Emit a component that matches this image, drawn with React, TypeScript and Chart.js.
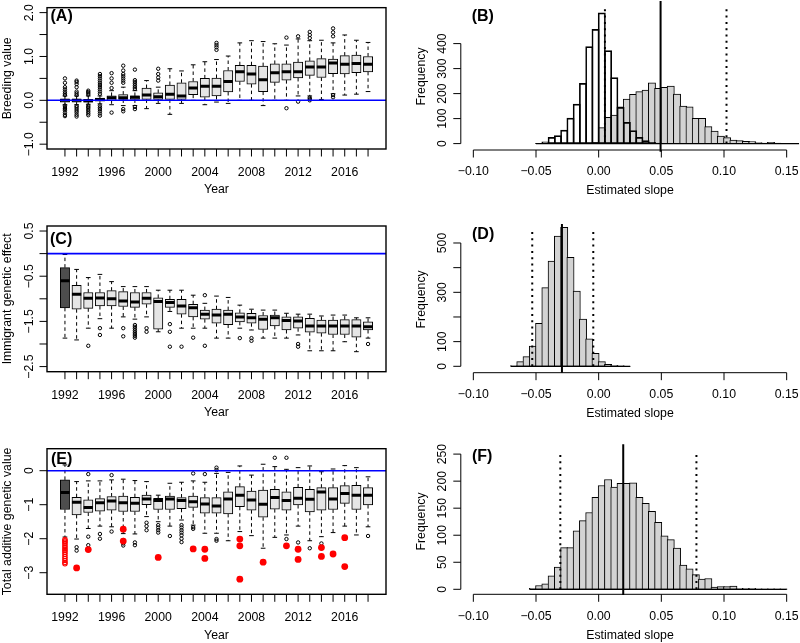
import React, { useEffect, useRef } from 'react';
import { Chart, registerables } from 'chart.js';

Chart.register(...registerables);

const FONT = "'Liberation Sans', Arial, Helvetica, sans-serif";

// ---------------- shared categories / ticks ----------------
const years = [1992, 1993, 1994, 1995, 1996, 1997, 1998, 1999, 2000, 2001, 2002, 2003, 2004, 2005, 2006, 2007, 2008, 2009, 2010, 2011, 2012, 2013, 2014, 2015, 2016, 2017, 2018];
const yearTickLabels = ['1992', '1996', '2000', '2004', '2008', '2012', '2016'];
const highlightYear = 1992;

const slopeTicks = [-0.1, -0.05, 0, 0.05, 0.1, 0.15];
const slopeLabels = ['\u22120.10', '\u22120.05', '0.00', '0.05', '0.10', '0.15'];

// ---------------- Panel A: breeding value ----------------
const aLow = [-0.1, -0.1, -0.09, -0.08, -0.1, -0.12, -0.12, -0.19, -0.07, -0.32, -0.07, 0.0, -0.1, -0.04, -0.07, 0.0, 0.0, -0.12, 0.0, 0.0, 0.1, 0.1, 0.02, 0.15, 0.12, 0.14, 0.2];
const aQ1 = [-0.04, -0.04, -0.04, -0.02, 0.0, 0.02, 0.02, 0.02, 0.02, 0.02, 0.02, 0.13, 0.07, 0.1, 0.19, 0.43, 0.37, 0.2, 0.41, 0.46, 0.51, 0.57, 0.52, 0.61, 0.6, 0.63, 0.65];
const aMed = [0.0, 0.0, -0.01, 0.02, 0.06, 0.06, 0.07, 0.12, 0.08, 0.14, 0.1, 0.28, 0.32, 0.32, 0.43, 0.65, 0.6, 0.47, 0.63, 0.65, 0.65, 0.76, 0.76, 0.85, 0.82, 0.84, 0.82];
const aQ3 = [0.03, 0.03, 0.02, 0.05, 0.1, 0.13, 0.1, 0.28, 0.17, 0.35, 0.4, 0.43, 0.5, 0.51, 0.68, 0.8, 0.8, 0.78, 0.83, 0.83, 0.87, 0.9, 0.95, 0.94, 1.02, 1.03, 1.0];
const aHigh = [0.1, 0.1, 0.1, 0.1, 0.22, 0.3, 0.22, 0.45, 0.3, 0.72, 0.67, 0.81, 0.88, 0.93, 1.01, 1.31, 1.36, 1.34, 1.29, 1.26, 1.4, 1.36, 1.37, 1.31, 1.49, 1.37, 1.32];
const aOutliers = [
  [1992, 0.5], [1992, 0.4], [1992, 0.3], [1992, 0.25], [1992, 0.2], [1992, 0.16], [1992, 0.12], [1992, -0.12], [1992, -0.15], [1992, -0.18], [1992, -0.2], [1992, -0.23], [1992, -0.28], [1992, -0.33], [1992, -0.36],
  [1993, 0.45], [1993, 0.42], [1993, 0.37], [1993, 0.3], [1993, 0.2], [1993, 0.16], [1993, 0.12], [1993, -0.13], [1993, -0.16], [1993, -0.2], [1993, -0.24], [1993, -0.28], [1993, -0.33], [1993, -0.37],
  [1994, 0.22], [1994, 0.19], [1994, 0.16], [1994, 0.13], [1994, -0.12], [1994, -0.15], [1994, -0.18], [1994, -0.22], [1994, -0.26], [1994, -0.3], [1994, -0.34],
  [1995, 0.6], [1995, 0.55], [1995, 0.5], [1995, 0.45], [1995, 0.4], [1995, 0.35], [1995, 0.3], [1995, 0.25], [1995, 0.2], [1995, 0.15], [1995, -0.12], [1995, -0.16], [1995, -0.2], [1995, -0.25], [1995, -0.3], [1995, -0.35],
  [1996, 0.62], [1996, 0.5], [1996, 0.4], [1996, 0.28], [1996, -0.28],
  [1997, 0.79], [1997, 0.68], [1997, 0.6], [1997, 0.55], [1997, 0.5], [1997, 0.45], [1997, 0.4], [1997, -0.2], [1997, -0.25],
  [1998, 0.7], [1998, 0.46], [1998, 0.42], [1998, 0.38], [1998, 0.34], [1998, 0.3], [1998, 0.26], [1998, -0.15], [1998, -0.2],
  [2000, 0.72], [2000, 0.6], [2000, 0.52], [2000, 0.45],
  [2005, 1.31], [2005, 1.26], [2005, 1.21], [2005, 1.15],
  [2011, 1.43], [2011, -0.18],
  [2012, 1.46], [2012, -0.03],
  [2013, 1.56], [2013, 1.49], [2013, 1.42], [2013, 0.06], [2013, 0.03], [2013, 0.0],
  [2015, 1.64], [2015, 1.55], [2015, 1.46], [2015, 0.12], [2015, 0.07],
];
const aYTicks = [-1, -0.5, 0, 0.5, 1, 1.5, 2];
const aYLabels = ['\u22121.0', '', '0.0', '', '1.0', '', '2.0'];

// ---------------- Panel C: immigrant genetic effect ----------------
const cLow = [-1.87, -1.91, -1.65, -1.44, -1.65, -1.4, -1.45, -1.4, -1.73, -1.28, -1.65, -1.65, -1.65, -1.87, -1.87, -1.65, -1.69, -1.87, -1.87, -1.87, -1.8, -2.15, -2.15, -2.15, -1.95, -2.17, -1.87];
const cQ1 = [-1.2, -1.23, -1.21, -1.16, -1.16, -1.17, -1.19, -1.12, -1.67, -1.19, -1.34, -1.4, -1.45, -1.54, -1.57, -1.51, -1.54, -1.68, -1.6, -1.69, -1.65, -1.74, -1.76, -1.79, -1.79, -1.85, -1.69];
const cMed = [-0.6, -0.9, -0.99, -0.98, -1.0, -1.05, -1.07, -0.99, -1.06, -1.08, -1.16, -1.2, -1.34, -1.36, -1.34, -1.4, -1.42, -1.45, -1.42, -1.48, -1.49, -1.6, -1.6, -1.6, -1.6, -1.6, -1.62];
const cQ3 = [-0.31, -0.7, -0.86, -0.86, -0.82, -0.84, -0.86, -0.86, -0.98, -1.01, -1.01, -1.12, -1.25, -1.23, -1.25, -1.31, -1.32, -1.37, -1.36, -1.4, -1.4, -1.43, -1.47, -1.47, -1.46, -1.46, -1.51];
const cHigh = [-0.02, -0.35, -0.53, -0.46, -0.62, -0.73, -0.73, -0.73, -0.81, -0.81, -0.81, -0.92, -1.1, -0.94, -0.97, -1.14, -1.23, -1.25, -1.25, -1.32, -1.34, -1.34, -1.38, -1.36, -1.36, -1.42, -1.42];
const cOutliers = [
  [1994, -2.04], [1995, -1.65], [1995, -1.8], [1997, -1.65], [1997, -1.83],
  [1998, -1.58], [1998, -1.62], [1998, -1.66], [1998, -1.7], [1998, -1.74], [1998, -1.78], [1998, -1.82], [1998, -1.86],
  [1999, -1.65], [1999, -1.73], [2001, -1.56], [2001, -1.73], [2001, -2.06], [2002, -2.06], [2003, -1.86],
  [2004, -0.92], [2004, -2.04], [2007, -1.87], [2008, -1.87], [2008, -1.93], [2012, -2.0], [2012, -2.06], [2018, -2.0],
];
const cYTicks = [-2.5, -2, -1.5, -1, -0.5, 0, 0.5];
const cYLabels = ['\u22122.5', '', '\u22121.5', '', '\u22120.5', '', '0.5'];

// ---------------- Panel E: total additive genetic value ----------------
const eLow = [-1.95, -2.01, -1.7, -1.63, -1.65, -1.85, -1.86, -1.35, -1.5, -1.63, -1.45, -1.6, -1.84, -1.84, -2.06, -1.79, -1.91, -2.28, -1.96, -1.89, -1.63, -2.06, -1.94, -1.82, -1.63, -1.89, -1.65];
const eQ1 = [-1.14, -1.3, -1.23, -1.19, -1.16, -1.2, -1.2, -1.0, -1.14, -1.14, -1.12, -1.08, -1.25, -1.25, -1.27, -1.06, -1.16, -1.37, -1.13, -1.16, -1.01, -1.21, -1.16, -1.14, -0.96, -1.14, -1.01];
const eMed = [-0.64, -0.93, -1.08, -0.94, -0.89, -0.94, -0.96, -0.83, -0.88, -0.83, -0.88, -0.91, -0.98, -1.04, -0.83, -0.72, -0.86, -0.99, -0.79, -0.88, -0.81, -0.84, -0.63, -0.83, -0.67, -0.72, -0.72];
const eQ3 = [-0.27, -0.78, -0.86, -0.82, -0.76, -0.75, -0.78, -0.72, -0.81, -0.75, -0.79, -0.75, -0.79, -0.79, -0.62, -0.47, -0.6, -0.57, -0.55, -0.62, -0.49, -0.55, -0.5, -0.5, -0.44, -0.43, -0.5];
const eHigh = [0.17, -0.32, -0.3, -0.3, -0.27, -0.25, -0.29, -0.32, -0.72, -0.37, -0.34, -0.3, -0.34, -0.08, -0.05, 0.14, -0.13, 0.19, 0.12, 0.04, 0.09, 0.14, -0.03, 0.05, 0.15, 0.09, -0.18];
const eOutliers = [
  [1993, -2.25], [1993, -2.35], [1994, -0.1], [1994, -1.94], [1994, -2.19], [1995, -1.86], [1995, -2.0],
  [1996, -0.13], [1996, -1.79], [1997, -2.04], [1997, -2.14], [1997, -2.2], [1998, -2.11], [1998, -2.19],
  [1999, -1.53], [1999, -1.63], [1999, -1.75], [2000, -1.6], [2000, -1.67], [2000, -1.75], [2000, -1.82],
  [2001, -1.92], [2002, -1.6], [2002, -1.67], [2002, -1.75], [2002, -1.82], [2002, -1.9], [2002, -2.0], [2002, -2.1],
  [2003, -0.08], [2003, -1.66], [2003, -1.71], [2004, -0.1], [2005, 0.09], [2005, 0.02], [2005, -2.01], [2005, -2.06],
  [2010, 0.38], [2011, 0.38], [2011, -2.01], [2012, -2.11], [2013, -2.28], [2014, -2.14], [2018, -1.92],
];
const eRedFilled = [
  [1993, -2.86], [1994, -2.32], [1997, -1.72], [1997, -2.07], [2000, -2.55], [2003, -2.3], [2004, -2.31], [2004, -2.58],
  [2007, -2.01], [2007, -2.21], [2007, -3.19], [2009, -2.69], [2011, -2.21], [2012, -2.31], [2012, -2.61],
  [2014, -2.26], [2014, -2.52], [2015, -2.45], [2016, -1.97], [2016, -2.82],
];
const eRedOpen = [
  [1992, -2.02], [1992, -2.06], [1992, -2.1], [1992, -2.14], [1992, -2.2], [1992, -2.25], [1992, -2.3], [1992, -2.35],
  [1992, -2.4], [1992, -2.46], [1992, -2.52], [1992, -2.58], [1992, -2.64], [1992, -2.7], [1992, -2.74],
];
const eYTicks = [-3, -2, -1, 0];
const eYLabels = ['\u22123', '\u22122', '\u22121', '0'];

// ---------------- Histograms ----------------
const binWidth = 0.005;

// (B)
const bWhiteStart = -0.05;
const bWhiteCounts = [1, 7, 25, 32, 54, 102, 158, 241, 388, 457, 523, 372, 264, 145, 85, 52, 25, 12, 5, 2];
const bGreyStart = -0.01;
const bGreyCounts = [2, 5, 64, 105, 114, 147, 178, 197, 208, 214, 243, 221, 225, 230, 198, 150, 147, 101, 101, 68, 50, 30, 24, 14, 12, 9, 8, 4, 2, 5, 2, 1];
const bBaseRange = [-0.05, 0.16];
const bEstimate = 0.0494;
const bInterval = [0.005, 0.102];
const bYTicks = [0, 100, 200, 300, 400];
const bYLabels = ['0', '100', '200', '300', '400'];

// (D)
const dStart = -0.07;
const dCounts = [3, 19, 39, 82, 174, 319, 427, 528, 564, 442, 305, 191, 111, 53, 19, 8, 4, 3, 1];
const dBaseRange = [-0.07, 0.025];
const dEstimate = -0.0293;
const dInterval = [-0.053, -0.0043];
const dYTicks = [0, 100, 200, 300, 400, 500];
const dYLabels = ['0', '100', '', '300', '', '500'];

// (F)
const fStart = -0.055;
const fCounts = [2, 7, 10, 25, 41, 77, 77, 108, 127, 142, 170, 192, 203, 189, 196, 196, 197, 170, 159, 144, 124, 99, 92, 76, 45, 38, 27, 19, 20, 4, 5, 5, 6, 2, 2, 2, 1, 1, 1, 1, 1];
const fBaseRange = [-0.055, 0.15];
const fEstimate = 0.0196;
const fInterval = [-0.0306, 0.078];
const fYTicks = [0, 50, 100, 150, 200, 250];
const fYLabels = ['0', '50', '100', '150', '200', '250'];

// ---------------- styling / layout ----------------
const BOX_FILL = '#e5e5e5';
const BOX_DARK = '#4d4d4d';
const HIST_FILL = '#d3d3d3';
const YEAR_MIN = 1990.46;
const YEAR_MAX = 2019.54;
const SLOPE_MIN = -0.11;
const SLOPE_MAX = 0.16;

type Rect = { x: number; y: number; w: number; h: number };
type Plot = { l: number; t: number; r: number; b: number };

const pad = (c: Rect, p: Plot) => ({ left: p.l - c.x, top: p.t - c.y, right: c.x + c.w - p.r, bottom: c.y + c.h - p.b });

const rAxesPlugin = {
  id: 'rAxes',
  afterDatasetsDraw(chart: any, _args: any, o: any) {
    const ctx = chart.ctx;
    const a = chart.chartArea;
    const xs = chart.scales.x;
    const ys = chart.scales.y;
    ctx.save();
    ctx.setLineDash([]);
    ctx.strokeStyle = '#000';
    ctx.fillStyle = '#000';
    if (o.frame) {
      ctx.lineWidth = 1.4;
      ctx.strokeRect(a.left, a.top, a.right - a.left, a.bottom - a.top);
    }
    ctx.lineWidth = 1;
    ctx.beginPath();
    if (o.axisLines) {
      ctx.moveTo(xs.getPixelForValue(o.xTicks[0]), a.bottom);
      ctx.lineTo(xs.getPixelForValue(o.xTicks[o.xTicks.length - 1]), a.bottom);
      ctx.moveTo(a.left, ys.getPixelForValue(o.yTicks[0]));
      ctx.lineTo(a.left, ys.getPixelForValue(o.yTicks[o.yTicks.length - 1]));
    }
    o.xTicks.forEach((v: number) => {
      const p = xs.getPixelForValue(v);
      ctx.moveTo(p, a.bottom);
      ctx.lineTo(p, a.bottom + 7.5);
    });
    o.yTicks.forEach((v: number) => {
      const p = ys.getPixelForValue(v);
      ctx.moveTo(a.left, p);
      ctx.lineTo(a.left - 7.5, p);
    });
    ctx.stroke();

    ctx.font = `12.3px ${FONT}`;
    ctx.textAlign = 'center';
    ctx.textBaseline = 'middle';
    o.xTicks.forEach((v: number, i: number) => {
      if (o.xLabels[i]) ctx.fillText(o.xLabels[i], xs.getPixelForValue(v), a.bottom + o.xLabelOff);
    });
    ctx.fillText(o.xTitle, (a.left + a.right) / 2, a.bottom + o.xTitleOff);
    o.yTicks.forEach((v: number, i: number) => {
      if (!o.yLabels[i]) return;
      ctx.save();
      ctx.translate(a.left - 17.7, ys.getPixelForValue(v));
      ctx.rotate(-Math.PI / 2);
      ctx.fillText(o.yLabels[i], 0, 0);
      ctx.restore();
    });
    ctx.save();
    ctx.translate(a.left - 39.5, (a.top + a.bottom) / 2);
    ctx.rotate(-Math.PI / 2);
    ctx.fillText(o.yTitle, 0, 0);
    ctx.restore();

    ctx.font = `bold 16px ${FONT}`;
    ctx.textAlign = 'left';
    ctx.fillText(o.tag, o.tagX, o.tagY);
    ctx.restore();
  },
};

const pairs = (list: number[][]) => list.map(([x, y]) => ({ x, y }));

function baseOptions(canvas: Rect, plot: Plot, xMin: number, xMax: number, yMin: number, yMax: number, axes: any) {
  return {
    responsive: false,
    animation: false,
    devicePixelRatio: 1,
    events: [],
    layout: { padding: pad(canvas, plot) },
    plugins: { legend: { display: false }, tooltip: { enabled: false }, rAxes: axes },
    scales: {
      x: { type: 'linear', min: xMin, max: xMax, offset: false, display: false },
      y: { type: 'linear', min: yMin, max: yMax, display: false },
    },
  };
}

function boxConfig(p: any) {
  const pxPerYear = (p.plot.r - p.plot.l) / (YEAR_MAX - YEAR_MIN);
  const boxWidth = 0.8 * pxPerYear;
  const whiskers: any[] = [];
  years.forEach((yr, i) => {
    whiskers.push({ x: yr, y: p.q3[i] }, { x: yr, y: p.high[i] }, { x: yr, y: null }, { x: yr, y: p.q1[i] }, { x: yr, y: p.low[i] }, { x: yr, y: null });
  });
  const staples: any[] = [];
  years.forEach((yr, i) => staples.push({ x: yr, y: p.high[i] }, { x: yr, y: p.low[i] }));
  const datasets: any[] = [
    { type: 'line', data: [{ x: YEAR_MIN, y: 0 }, { x: YEAR_MAX, y: 0 }], borderColor: '#0000ff', borderWidth: 1.6, pointRadius: 0, order: 0 },
    {
      type: 'bar',
      data: years.map((yr, i) => ({ x: yr, y: [p.q1[i], p.q3[i]] })),
      backgroundColor: years.map((yr) => (p.darkFirst && yr === highlightYear ? BOX_DARK : BOX_FILL)),
      borderColor: '#000', borderWidth: 1, borderSkipped: false, grouped: false, barThickness: boxWidth, order: 6,
    },
    { type: 'line', data: whiskers, borderColor: '#000', borderWidth: 1, borderDash: [3.5, 3], pointRadius: 0, spanGaps: false, order: 7 },
    { type: 'scatter', showLine: false, data: staples, pointStyle: 'line', pointRadius: boxWidth / 4, pointBorderWidth: 1, pointBorderColor: '#000', order: 5 },
    { type: 'scatter', showLine: false, data: years.map((yr, i) => ({ x: yr, y: p.med[i] })), pointStyle: 'line', pointRadius: boxWidth / 2, pointBorderWidth: 3, pointBorderColor: '#000', order: 4 },
    { type: 'scatter', showLine: false, data: pairs(p.outliers), pointStyle: 'circle', pointRadius: 1.7, pointBorderWidth: 1, pointBorderColor: '#000', pointBackgroundColor: 'rgba(0,0,0,0)', order: 3 },
  ];
  if (p.redOpen) {
    datasets.push({ type: 'scatter', showLine: false, data: pairs(p.redOpen), pointStyle: 'circle', pointRadius: 2.2, pointBorderWidth: 1.1, pointBorderColor: '#ff0000', pointBackgroundColor: 'rgba(0,0,0,0)', order: 2 });
  }
  if (p.redFilled) {
    datasets.push({ type: 'scatter', showLine: false, data: pairs(p.redFilled), pointStyle: 'circle', pointRadius: 3.4, pointBorderWidth: 0, pointBorderColor: '#ff0000', pointBackgroundColor: '#ff0000', order: 1 });
  }
  const axes = {
    frame: true, axisLines: false,
    xTicks: years, xLabels: years.map((y) => (yearTickLabels.includes(String(y)) ? String(y) : '')),
    xLabelOff: 23.7, xTitleOff: 41, xTitle: 'Year',
    yTicks: p.yTicks, yLabels: p.yLabels, yTitle: p.yTitle,
    tag: p.tag, tagX: p.tagPos[0] - p.canvas.x, tagY: p.tagPos[1] - p.canvas.y,
  };
  return { type: 'bar', data: { datasets }, options: baseOptions(p.canvas, p.plot, YEAR_MIN, YEAR_MAX, p.yMin, p.yMax, axes), plugins: [rAxesPlugin] };
}

const binned = (start: number, counts: number[]) =>
  counts.map((c, i) => ({ x: Number((start + (i + 0.5) * binWidth).toFixed(6)), y: c }));

function histConfig(p: any) {
  const pxPerUnit = (p.plot.r - p.plot.l) / (SLOPE_MAX - SLOPE_MIN);
  const barW = binWidth * pxPerUnit + 1;
  const datasets: any[] = [
    { type: 'line', data: [{ x: p.estimate, y: p.yMax + 8 }, { x: p.estimate, y: p.yMin - p.solidBelow }], borderColor: '#000', borderWidth: 2, pointRadius: 0, clip: false, order: 0 },
    { type: 'line', data: [{ x: p.interval[0], y: 0 }, { x: p.interval[0], y: p.dotTop }], borderColor: '#000', borderWidth: 2, borderDash: [2, 4.3], pointRadius: 0, order: 1 },
    { type: 'line', data: [{ x: p.interval[1], y: 0 }, { x: p.interval[1], y: p.dotTop }], borderColor: '#000', borderWidth: 2, borderDash: [2, 4.3], pointRadius: 0, order: 1 },
    { type: 'line', data: [{ x: p.baseRange[0], y: 0 }, { x: p.baseRange[1], y: 0 }], borderColor: '#000', borderWidth: 1.2, pointRadius: 0, order: 2 },
  ];
  p.hists.forEach((h: any, k: number) => {
    datasets.push({
      type: 'bar', data: binned(h.start, h.counts), backgroundColor: h.fill, borderColor: '#000', borderWidth: 1,
      borderSkipped: false, grouped: false, barThickness: barW, order: 4 - k,
    });
  });
  const axes = {
    frame: false, axisLines: true,
    xTicks: slopeTicks, xLabels: slopeLabels, xLabelOff: 22, xTitleOff: 41, xTitle: 'Estimated slope',
    yTicks: p.yTicks, yLabels: p.yLabels, yTitle: 'Frequency',
    tag: p.tag, tagX: p.tagPos[0] - p.canvas.x, tagY: p.tagPos[1] - p.canvas.y,
  };
  return { type: 'bar', data: { datasets }, options: baseOptions(p.canvas, p.plot, SLOPE_MIN, SLOPE_MAX, p.yMin, p.yMax, axes), plugins: [rAxesPlugin] };
}

const panels: { canvas: Rect; make: () => any }[] = [
  {
    canvas: { x: 0, y: 0, w: 410, h: 212 },
    make() {
      return boxConfig({
        canvas: this.canvas, plot: { l: 47, t: 3, r: 386, b: 149 }, yMin: -1.11, yMax: 2.113,
        low: aLow, q1: aQ1, med: aMed, q3: aQ3, high: aHigh, outliers: aOutliers,
        yTicks: aYTicks, yLabels: aYLabels, yTitle: 'Breeding value', tag: '(A)', tagPos: [50.5, 16.7],
      });
    },
  },
  {
    canvas: { x: 0, y: 212, w: 410, h: 218 },
    make() {
      return boxConfig({
        canvas: this.canvas, plot: { l: 47, t: 226, r: 386, b: 371.7 }, yMin: -2.613, yMax: 0.611, darkFirst: true,
        low: cLow, q1: cQ1, med: cMed, q3: cQ3, high: cHigh, outliers: cOutliers,
        yTicks: cYTicks, yLabels: cYLabels, yTitle: 'Immigrant genetic effect', tag: '(C)', tagPos: [50, 239.5],
      });
    },
  },
  {
    canvas: { x: 0, y: 430, w: 410, h: 213 },
    make() {
      return boxConfig({
        canvas: this.canvas, plot: { l: 47, t: 448.7, r: 386, b: 594.3 }, yMin: -3.635, yMax: 0.647, darkFirst: true,
        low: eLow, q1: eQ1, med: eMed, q3: eQ3, high: eHigh, outliers: eOutliers, redFilled: eRedFilled, redOpen: eRedOpen,
        yTicks: eYTicks, yLabels: eYLabels, yTitle: 'Total additive genetic value', tag: '(E)', tagPos: [51, 459.5],
      });
    },
  },
  {
    canvas: { x: 410, y: 0, w: 390, h: 212 },
    make() {
      return histConfig({
        canvas: this.canvas, plot: { l: 460.8, t: 3, r: 799.2, b: 150 }, yMin: -25.6, yMax: 562.4,
        hists: [{ start: bGreyStart, counts: bGreyCounts, fill: HIST_FILL }, { start: bWhiteStart, counts: bWhiteCounts, fill: 'rgba(0,0,0,0)' }],
        baseRange: bBaseRange, estimate: bEstimate, interval: bInterval, dotTop: 554, solidBelow: 7,
        yTicks: bYTicks, yLabels: bYLabels, tag: '(B)', tagPos: [471.7, 16.7],
      });
    },
  },
  {
    canvas: { x: 410, y: 212, w: 390, h: 218 },
    make() {
      return histConfig({
        canvas: this.canvas, plot: { l: 460.8, t: 226, r: 799.2, b: 372.7 }, yMin: -25.95, yMax: 568.9,
        hists: [{ start: dStart, counts: dCounts, fill: HIST_FILL }],
        baseRange: dBaseRange, estimate: dEstimate, interval: dInterval, dotTop: 560, solidBelow: 0,
        yTicks: dYTicks, yLabels: dYLabels, tag: '(D)', tagPos: [472, 235],
      });
    },
  },
  {
    canvas: { x: 410, y: 430, w: 390, h: 213 },
    make() {
      return histConfig({
        canvas: this.canvas, plot: { l: 460.8, t: 448.7, r: 799.2, b: 594.3 }, yMin: -9.25, yMax: 260,
        hists: [{ start: fStart, counts: fCounts, fill: HIST_FILL }],
        baseRange: fBaseRange, estimate: fEstimate, interval: fInterval, dotTop: 254, solidBelow: 1.5,
        yTicks: fYTicks, yLabels: fYLabels, tag: '(F)', tagPos: [472, 456.3],
      });
    },
  },
];

function Panel({ spec }: { spec: { canvas: Rect; make: () => any } }) {
  const ref = useRef<HTMLCanvasElement>(null);
  useEffect(() => {
    const chart = new Chart(ref.current as HTMLCanvasElement, spec.make() as any);
    return () => chart.destroy();
  }, [spec]);
  const c = spec.canvas;
  return (
    <canvas
      ref={ref}
      width={c.w}
      height={c.h}
      style={{ position: 'absolute', left: c.x, top: c.y, width: c.w, height: c.h }}
    />
  );
}

export default function App() {
  return (
    <div style={{ position: 'absolute', left: 0, top: 0, width: 800, height: 643, background: '#ffffff', overflow: 'hidden' }}>
      {panels.map((p, i) => (
        <Panel key={i} spec={p} />
      ))}
    </div>
  );
}
